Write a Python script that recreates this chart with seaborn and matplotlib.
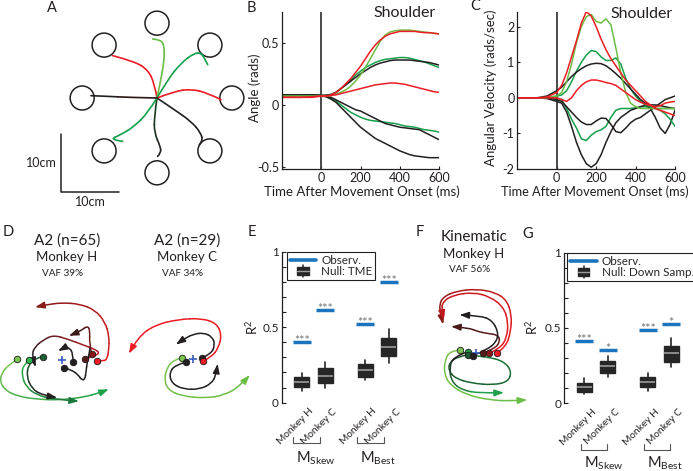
import numpy as np
import pandas as pd
import matplotlib
matplotlib.use('Agg')
import matplotlib.pyplot as plt
import seaborn as sns
from matplotlib.path import Path
from matplotlib.patches import PathPatch, Circle, Rectangle
from matplotlib.lines import Line2D
from matplotlib.legend_handler import HandlerBase
from matplotlib.ticker import MultipleLocator
import matplotlib.transforms as mtrans
import matplotlib.colors as mcolors

# ---------------- data ----------------
TIME_MS = [-200, -150, -100, -50, 0, 25, 50, 75, 100, 125, 150, 175, 200, 225, 250,
           275, 300, 325, 350, 375, 400, 425, 450, 475, 500, 525, 550, 575, 600]

# Panel B: shoulder angle (rads)
ang_red_hi = [0.06, 0.06, 0.06, 0.065, 0.07, 0.07, 0.08, 0.10, 0.13, 0.17, 0.21, 0.26, 0.31, 0.37, 0.43,
              0.48, 0.52, 0.55, 0.57, 0.58, 0.59, 0.59, 0.59, 0.59, 0.585, 0.58, 0.58, 0.575, 0.57]
ang_lgreen_hi = [0.07, 0.07, 0.07, 0.07, 0.07, 0.07, 0.075, 0.085, 0.10, 0.12, 0.15, 0.19, 0.24, 0.30, 0.37,
                 0.44, 0.51, 0.56, 0.585, 0.595, 0.60, 0.60, 0.60, 0.595, 0.59, 0.585, 0.58, 0.575, 0.57]
ang_green_mid = [0.075, 0.075, 0.075, 0.075, 0.075, 0.078, 0.085, 0.10, 0.13, 0.16, 0.20, 0.24, 0.27, 0.30, 0.32,
                 0.34, 0.355, 0.365, 0.37, 0.375, 0.38, 0.38, 0.375, 0.365, 0.355, 0.345, 0.33, 0.315, 0.30]
ang_black_mid = [0.08, 0.08, 0.08, 0.08, 0.075, 0.077, 0.08, 0.10, 0.13, 0.16, 0.19, 0.22, 0.25, 0.275, 0.30,
                 0.32, 0.335, 0.345, 0.355, 0.36, 0.36, 0.36, 0.36, 0.355, 0.35, 0.345, 0.34, 0.33, 0.32]
ang_red_lo = [0.06, 0.06, 0.06, 0.06, 0.07, 0.072, 0.075, 0.08, 0.09, 0.10, 0.11, 0.12, 0.13, 0.14, 0.15,
              0.16, 0.165, 0.17, 0.175, 0.175, 0.17, 0.165, 0.155, 0.145, 0.135, 0.125, 0.115, 0.105, 0.10]
ang_black_lo1 = [0.08, 0.08, 0.08, 0.08, 0.075, 0.07, 0.06, 0.04, 0.02, 0.0, -0.02, -0.04, -0.05, -0.07, -0.09,
                 -0.11, -0.13, -0.15, -0.16, -0.17, -0.18, -0.185, -0.19, -0.195, -0.20, -0.22, -0.24, -0.26, -0.28]
ang_green_lo = [0.075, 0.075, 0.075, 0.075, 0.07, 0.065, 0.05, 0.03, 0.0, -0.03, -0.06, -0.08, -0.10, -0.115, -0.125,
                -0.13, -0.135, -0.14, -0.145, -0.15, -0.16, -0.17, -0.175, -0.18, -0.19, -0.20, -0.205, -0.21, -0.22]
ang_black_lo2 = [0.08, 0.08, 0.08, 0.08, 0.075, 0.065, 0.045, 0.02, -0.02, -0.06, -0.10, -0.14, -0.18, -0.21, -0.24,
                 -0.27, -0.29, -0.31, -0.33, -0.35, -0.37, -0.385, -0.40, -0.41, -0.415, -0.42, -0.425, -0.425, -0.425]

# Panel C: shoulder angular velocity (rads/sec)
vel_red_big = [0, 0, 0, 0.02, 0.15, 0.35, 0.7, 1.15, 1.6, 2.1, 2.42, 2.3, 2.0, 1.65, 1.35,
               1.1, 0.9, 0.7, 0.5, 0.35, 0.2, 0.05, -0.1, -0.2, -0.3, -0.35, -0.4, -0.45, -0.5]
vel_lgreen_big = [0, 0, 0, 0.01, 0.05, 0.15, 0.45, 0.95, 1.55, 2.0, 2.28, 2.34, 2.15, 2.1, 2.22,
                  2.05, 1.4, 0.7, 0.15, -0.15, -0.25, -0.3, -0.3, -0.3, -0.3, -0.3, -0.3, -0.3, -0.3]
vel_green_med = [0, 0, 0, 0, 0.05, 0.08, 0.2, 0.45, 0.75, 1.0, 1.2, 1.33, 1.3, 1.15, 1.05,
                 1.05, 1.12, 0.95, 0.55, 0.25, 0.05, -0.1, -0.2, -0.25, -0.3, -0.35, -0.45, -0.6, -0.8]
vel_green_neg = [0, 0, 0, 0, 0.0, -0.05, -0.3, -0.6, -0.85, -1.15, -1.2, -1.05, -0.95, -0.9, -0.8,
                 -0.55, -0.35, -0.3, -0.3, -0.3, -0.28, -0.25, -0.25, -0.25, -0.3, -0.3, -0.3, -0.3, -0.3]
vel_black_pos = [0, 0, 0, 0.05, 0.2, 0.3, 0.45, 0.6, 0.72, 0.82, 0.9, 0.95, 0.97, 0.96, 0.9,
                 0.8, 0.68, 0.55, 0.4, 0.25, 0.1, -0.05, -0.15, -0.2, -0.2, -0.22, -0.25, -0.28, -0.3]
vel_red_mid = [0, 0, 0, 0, 0.0, -0.05, -0.1, 0.0, 0.2, 0.35, 0.45, 0.5, 0.5, 0.47, 0.43,
               0.4, 0.35, 0.25, 0.15, 0.05, -0.05, -0.12, -0.18, -0.22, -0.25, -0.22, -0.15, -0.12, -0.1]
vel_black_neg = [0, 0, 0, 0, -0.05, -0.1, -0.25, -0.4, -0.55, -0.68, -0.75, -0.75, -0.65, -0.57, -0.58,
                 -0.75, -0.95, -0.98, -0.85, -0.7, -0.6, -0.55, -0.45, -0.35, -0.25, -0.15, -0.05, 0.0, 0.05]
vel_black_big = [0, 0, 0, -0.02, -0.1, -0.15, -0.4, -0.8, -1.25, -1.6, -1.85, -1.95, -1.85, -1.6, -1.25,
                 -0.95, -0.7, -0.55, -0.45, -0.35, -0.3, -0.25, -0.2, -0.3, -0.55, -0.85, -1.0, -0.75, -0.35]

# Panel A: targets and hand paths (cm, relative to centre)
TARGET_ANGLES_DEG = [0, 45, 90, 135, 180, 225, 270, 315]
TARGET_DIST_CM = 12.9
TARGET_RADIUS_CM = 2.07
SCALE_BAR_CM = 10
hand_paths = {
    'ul_red':    [(0, 0), (-0.46, 2.59), (-1.61, 4.89), (-3.91, 6.32), (-7.64, 7.3)],
    'top_lg':    [(0, 0), (0.57, 2.59), (1.26, 6.61), (1.26, 8.91), (0.69, 10.06), (-0.75, 10.17)],
    'ur_green':  [(0, 0), (1.84, 3.16), (4.14, 6.03), (6.44, 7.76), (7.59, 7.76), (8.16, 6.9), (8.74, 5.75)],
    'r_red':     [(0, 0), (2.99, 1.15), (5.86, 1.55), (8.74, 0.86), (11.03, -0.29)],
    'lr_black':  [(0, 0), (2.99, -2.01), (5.86, -4.02), (7.59, -6.03), (7.87, -7.47), (7.3, -8.05)],
    'b_black':   [(0, 0), (-0.46, -3.16), (-0.46, -6.03), (0.57, -8.33), (0.69, -9.48), (0.11, -10.06)],
    'll_green':  [(0, 0), (-1.61, -2.59), (-3.91, -4.89), (-6.21, -6.32), (-8.22, -7.18), (-5.92, -7.47)],
    'l_black':   [(0, 0), (-5.06, 0.11), (-8.51, 0.29), (-11.38, 0.4)],
}

# Panels D and F: neural / kinematic trajectories (figure pixel units)
traj_D_H = [
    # points, start colour, end colour, arrow
    ([(96.7, 360.7), (104, 361.3), (107.3, 358.3), (108.7, 350), (109.3, 336.7), (105, 321.7), (95, 310),
      (80, 304), (61.7, 302.7), (46.7, 304.7), (37.3, 306.7)], '#ed1c24', '#8a1a1a', True),
    ([(85, 359.3), (91.7, 356.7), (100, 353.3), (95, 349.3), (83.3, 345), (68.3, 339.3), (53.3, 335),
      (43.3, 340), (35, 346.7), (31.7, 355), (35, 365)], '#ed1c24', '#231f20', True),
    ([(91.7, 354), (89.3, 343.3), (90, 330), (87.3, 326), (81.7, 330), (76.7, 332.7), (71, 335)],
     '#7a1c1c', '#3a1a1a', True),
    ([(73.3, 362.3), (72.7, 353.3), (70, 348.3), (65, 347.3), (60, 350)], '#231f20', '#231f20', True),
    ([(64.3, 367.7), (71.7, 370), (78.3, 375), (81.7, 380), (85, 379.3), (86, 371.7), (87.3, 361.7),
      (89.3, 353.3), (90, 348.3)], '#231f20', '#231f20', False),
    ([(17.3, 359.3), (8.3, 365), (1.7, 373.3), (0, 381.7), (5, 390), (16.7, 396), (36.7, 399.3), (60, 400),
      (83.3, 397.3), (100, 392.7), (106.7, 390)], '#7cc552', '#1fa04a', True),
    ([(29.3, 360), (23.3, 365), (21.7, 375), (26, 386.7), (36.7, 395), (53.3, 399.3), (76.7, 401)],
     '#2db34a', '#1a7a3a', True),
    ([(42.7, 356.7), (35, 358.3), (28.3, 365), (26.7, 376.7), (31.7, 388.3), (41.7, 395), (55, 397.3)],
     '#1d5e32', '#231f20', True),
]
dots_D_H = [((17.3, 359.3), '#7cc552'), ((29.3, 360), '#2db34a'), ((42.7, 356.7), '#1d5e32'),
            ((64.3, 367.7), '#231f20'), ((73.3, 362.3), '#231f20'), ((85, 359.3), '#5a1a1a'),
            ((91.7, 354), '#8a1a1a'), ((96.7, 360.7), '#ed1c24')]
centre_D_H = (62, 360)

traj_D_C = [
    ([(203.3, 361), (211.7, 356.7), (218.3, 348.3), (221.7, 335), (216.7, 323.3), (201.7, 318.3), (178.3, 319.3),
      (155, 325), (138.3, 336.7), (130, 351.7)], '#ed1c24', '#ed1c24', True),
    ([(202.3, 357.7), (211, 354), (215, 345), (212.3, 336.7), (203.3, 332.7), (193.3, 334.3), (185, 338.3),
      (177.7, 343.3)], '#231f20', '#231f20', True),
    ([(185.7, 362.3), (175, 365), (169.3, 373.3), (171.7, 383.3), (183.3, 389.3), (200, 389.3), (211.7, 383.3),
      (216, 375), (217.3, 366)], '#231f20', '#231f20', True),
    ([(181.7, 357.7), (173.3, 360), (166.7, 368.3), (164.3, 380), (168.3, 390), (181.7, 396), (205, 398.3),
      (225, 395), (240, 386), (248.3, 376.7)], '#7cc552', '#6abd45', True),
]
dots_D_C = [((181.7, 357.7), '#7cc552'), ((185.7, 362.3), '#231f20'), ((202.3, 357.7), '#231f20'),
            ((203.3, 361), '#ed1c24')]
centre_D_C = (193.3, 359.3)

traj_F = [
    ([(497.3, 352.7), (506, 346.7), (510.7, 331.7), (511.7, 315), (506.7, 300), (495, 292.3), (476.7, 289),
      (456.7, 291), (443.3, 296.7), (439.3, 305), (440.7, 313.3), (442.7, 322.3)], '#ed1c24', '#8a1a1a', True),
    ([(489.3, 353.3), (500, 348.3), (506.7, 338.3), (508.3, 321.7), (503.3, 306.7), (490, 296.7), (473.3, 292.3),
      (453.3, 295), (442.7, 301.7), (441.7, 310), (443.3, 317.7)], '#ed1c24', '#c0181e', True),
    ([(483.3, 353.3), (495, 348.3), (500, 341.7), (498.3, 335), (486.7, 333.3), (478.3, 331.7), (468.3, 327.7),
      (453.3, 326.7)], '#6b1d1d', '#4a1a1a', True),
    ([(472.7, 355.7), (486.7, 350), (496.7, 341.7), (498.3, 331.7), (491.7, 320), (480, 315.7), (461.7, 315)],
     '#231f20', '#231f20', True),
    ([(468.3, 355), (486.7, 356.7), (503.3, 361), (511.7, 371), (508.3, 381.7), (493.3, 385), (471.7, 383.3),
      (455, 378.3), (448.3, 370), (450, 361.7), (458.3, 356.7), (466.7, 355)], '#1d7a3a', '#1d4e2a', False),
    ([(467.7, 351.7), (453.3, 356.7), (449.3, 368.3), (451.7, 381.7), (461.7, 390), (480, 393.3), (501.7, 392.7)],
     '#231f20', '#1fa04a', True),
    ([(460, 350), (450, 351), (445, 360), (444, 373.3), (450, 385), (466.7, 395), (490, 400), (510, 401),
      (525, 400)], '#7cc552', '#6abd45', True),
]
dots_F = [((460, 350), '#7cc552'), ((467.7, 351.7), '#1fa04a'), ((468.3, 355), '#1d5e32'),
          ((472.7, 355.7), '#231f20'), ((483.3, 353.3), '#5a1a1a'), ((489.3, 353.3), '#8a1a1a'),
          ((497.3, 352.7), '#ed1c24')]
centre_F = (476, 353)

# Panels E and G: box statistics and observed R^2
group_labels = ['Monkey H', 'Monkey C', 'Monkey H', 'Monkey C']
E_whislo = [0.08, 0.10, 0.15, 0.26]
E_q1 = [0.106, 0.128, 0.172, 0.309]
E_med = [0.139, 0.177, 0.216, 0.37]
E_q3 = [0.168, 0.227, 0.254, 0.43]
E_whishi = [0.199, 0.27, 0.283, 0.486]
E_obs = [0.404, 0.614, 0.521, 0.801]
E_stars = ['***', '***', '***', '***']

G_whislo = [0.06, 0.177, 0.084, 0.243]
G_q1 = [0.077, 0.204, 0.106, 0.277]
G_med = [0.111, 0.248, 0.144, 0.332]
G_q3 = [0.137, 0.283, 0.173, 0.38]
G_whishi = [0.166, 0.314, 0.2, 0.431]
G_obs = [0.414, 0.354, 0.487, 0.527]
G_stars = ['***', '*', '***', '*']

# ---------------- style ----------------
sns.set_theme(style='white')
plt.rcParams['font.family'] = ['Lato', 'DejaVu Sans']
plt.rcParams['mathtext.fontset'] = 'custom'
plt.rcParams['mathtext.rm'] = 'Lato'
plt.rcParams['mathtext.it'] = 'Lato:italic'
plt.rcParams['mathtext.bf'] = 'Lato:bold'

RED = '#ed1c24'
LGREEN = '#6abd45'
GREEN = '#15a04a'
BLACK = '#231f20'
BLUE = '#1c75bc'
DARK = '#262626'

W, H = 693, 471
fig = plt.figure(figsize=(W / 100, H / 100), dpi=100)
fig.patch.set_facecolor('white')


def frac(l, t, r, b):
    return [l / W, 1 - b / H, (r - l) / W, (b - t) / H]


def ftext(x, y, s, **kw):
    fig.text(x / W, 1 - y / H, s, **kw)


def mix(c0, c1, f):
    a = np.array(mcolors.to_rgb(c0))
    b = np.array(mcolors.to_rgb(c1))
    return tuple(a + (b - a) * f)


def smooth_curve(ax, pts, c0, c1, lw=1.0, arrow=True, z=3):
    p = np.asarray(pts, float)
    n = len(p)
    nseg = n - 2
    for k in range(1, n - 1):
        start = p[0] if k == 1 else (p[k - 1] + p[k]) / 2
        end = (p[k] + p[k + 1]) / 2 if k < n - 2 else p[n - 1]
        col = mix(c0, c1, (k - 1) / max(nseg - 1, 1))
        path = Path([start, p[k], end], [Path.MOVETO, Path.CURVE3, Path.CURVE3])
        ax.add_patch(PathPatch(path, fill=False, ec=col, lw=lw, capstyle='round', zorder=z))
    if arrow:
        d = p[-1] - p[-2]
        d = d / np.hypot(*d)
        ax.annotate('', xy=tuple(p[-1] + d * 2), xytext=tuple(p[-1] - d * 3),
                    arrowprops=dict(arrowstyle='-|>,head_length=0.6,head_width=0.22', color=c1,
                                    lw=lw, shrinkA=0, shrinkB=0, mutation_scale=9), zorder=z + 1)


# ---------------- overlay axes for D and F ----------------
ov = fig.add_axes([0, 0, 1, 1])
ov.set_xlim(0, W)
ov.set_ylim(H, 0)
ov.axis('off')
ov.set_facecolor('none')

for traj, dots, centre in [(traj_D_H, dots_D_H, centre_D_H), (traj_D_C, dots_D_C, centre_D_C),
                           (traj_F, dots_F, centre_F)]:
    for pts, c0, c1, arr in traj:
        smooth_curve(ov, pts, c0, c1, lw=1.1, arrow=arr)
    ov.plot(*centre, marker='+', color='#3a5dc0', ms=6, mew=1.2, zorder=6)
    for (x, y), c in dots:
        ov.scatter([x], [y], s=22, color=c, edgecolor='#1a1a1a', linewidth=0.6, zorder=7)

# ---------------- Panel A ----------------
px_per_cm = 5.8
cx_px, cy_px = 157, 98
axA = fig.add_axes(frac(0, 0, 230, 215))
axA.set_xlim((0 - cx_px) / px_per_cm, (230 - cx_px) / px_per_cm)
axA.set_ylim((cy_px - 215) / px_per_cm, (cy_px - 0) / px_per_cm)
axA.axis('off')
axA.set_facecolor('none')
for ang in TARGET_ANGLES_DEG:
    a = np.deg2rad(ang)
    axA.add_patch(Circle((TARGET_DIST_CM * np.cos(a), TARGET_DIST_CM * np.sin(a)), TARGET_RADIUS_CM,
                         fill=False, ec=BLACK, lw=1.1, clip_on=False))
a_cols = {'ul_red': (RED, RED), 'top_lg': (LGREEN, LGREEN), 'ur_green': (GREEN, GREEN),
          'r_red': (RED, RED), 'lr_black': (BLACK, BLACK), 'b_black': ('#1a3a22', BLACK),
          'll_green': (GREEN, GREEN), 'l_black': ('#2a1414', BLACK)}
for key, pts in hand_paths.items():
    c0, c1 = a_cols[key]
    smooth_curve(axA, pts, c0, c1, lw=1.2, arrow=False)
sb_x, sb_y = -16.55, -16.2
axA.plot([sb_x, sb_x, sb_x + SCALE_BAR_CM], [sb_y + SCALE_BAR_CM, sb_y, sb_y], color=BLACK, lw=1.1,
         clip_on=False)
ftext(57, 163, '10cm', ha='right', va='center', fontsize=9, color=BLACK)
ftext(90.5, 201.5, '10cm', ha='center', va='center', fontsize=9, color=BLACK)

# ---------------- Panels B and C ----------------
b_series = [('r1', ang_red_hi, RED), ('g1', ang_lgreen_hi, LGREEN), ('g2', ang_green_mid, GREEN),
            ('k1', ang_black_mid, BLACK), ('r2', ang_red_lo, RED), ('k2', ang_black_lo1, BLACK),
            ('g3', ang_green_lo, GREEN), ('k3', ang_black_lo2, BLACK)]
c_series = [('r1', vel_red_big, RED), ('g1', vel_lgreen_big, LGREEN), ('g2', vel_green_med, GREEN),
            ('k1', vel_black_pos, BLACK), ('r2', vel_red_mid, RED), ('k2', vel_black_neg, BLACK),
            ('g3', vel_green_neg, GREEN), ('k3', vel_black_big, BLACK)]


def time_panel(rect, series, ylim, yticks, yticklabels):
    ax = fig.add_axes(rect)
    ax.set_facecolor('none')
    df = pd.concat([pd.DataFrame({'t': TIME_MS, 'v': vals, 'curve': name}) for name, vals, _ in series])
    pal = {name: c for name, _, c in series}
    order = ['g3', 'k3', 'k2', 'g2', 'k1', 'g1', 'r2', 'r1']
    sns.lineplot(data=df, x='t', y='v', hue='curve', hue_order=order, palette=pal, legend=False,
                 estimator=None, lw=1.1, ax=ax)
    ax.axvline(0, color='#3a3a3a', lw=1.3, zorder=1)
    ax.set_xlim(-200, 600)
    ax.set_ylim(*ylim)
    ax.set_xticks([0, 200, 400, 600])
    ax.set_xticklabels(['0', '200', '400', '600'])
    ax.set_yticks(yticks)
    ax.set_yticklabels(yticklabels)
    ax.tick_params(axis='both', labelsize=9, length=2.5, width=0.8, direction='in', pad=2,
                   colors=BLACK, left=True, bottom=True)
    for s in ['top', 'right']:
        ax.spines[s].set_visible(False)
    for s in ['left', 'bottom']:
        ax.spines[s].set_color(BLACK)
        ax.spines[s].set_linewidth(0.9)
    ax.set_xlabel('')
    ax.set_ylabel('')
    return ax


axB = time_panel(frac(282, 12, 439, 169), b_series, (-0.516, 0.746), [-0.5, 0, 0.5], ['-0.5', '0', '0.5'])
axC = time_panel(frac(517.3, 11.7, 675, 169), c_series, (-2.0, 2.42), [-2, -1, 0, 1, 2],
                 ['-2', '-1', '0', '1', '2'])
ftext(255, 88, 'Angle (rads)', rotation=90, ha='center', va='center', fontsize=9.5, color=BLACK)
ftext(491, 88, 'Angular Velocity (rads/sec)', rotation=90, ha='center', va='center', fontsize=9.5,
      color=BLACK)
ftext(362, 192, 'Time After Movement Onset (ms)', ha='center', va='center', fontsize=9.5, color=BLACK)
ftext(595, 192, 'Time After Movement Onset (ms)', ha='center', va='center', fontsize=9.2, color=BLACK)
ftext(405, 13, 'Shoulder', ha='center', va='center', fontsize=11.5, color=BLACK)
ftext(642, 14, 'Shoulder', ha='center', va='center', fontsize=11.5, color=BLACK)

# ---------------- Panels E and G ----------------
POSITIONS = [0, 1, 2.7, 3.7]


class BoxProxy:
    pass


class HandlerBox(HandlerBase):
    def create_artists(self, legend, orig_handle, xdescent, ydescent, width, height, fontsize, trans):
        cx = -xdescent + width * 0.5
        bw = width * 0.42
        y0 = -ydescent
        arts = [Line2D([cx, cx], [y0 - 0.25 * height, y0 + 1.25 * height], color=DARK, lw=1.1,
                       transform=trans),
                Rectangle((cx - bw / 2, y0 + 0.05 * height), bw, 0.9 * height, fc=DARK, ec=DARK,
                          transform=trans),
                Line2D([cx - bw / 2, cx + bw / 2], [y0 + 0.5 * height] * 2, color='#9b9b9b', lw=1,
                       transform=trans)]
        return arts


def r2_panel(rect, xlim, whislo, q1, med, q3, whishi, obs, stars, null_label, leg_xy,
             br_y, txt_y, br_off):
    ax = fig.add_axes(rect)
    ax.set_facecolor('none')
    stats = [dict(med=m, q1=a, q3=b, whislo=lo, whishi=hi, fliers=[])
             for lo, a, m, b, hi in zip(whislo, q1, med, q3, whishi)]
    ax.bxp(stats, positions=POSITIONS, widths=0.64, patch_artist=True, showcaps=False, showfliers=False,
           boxprops=dict(facecolor=DARK, edgecolor=DARK, lw=1),
           whiskerprops=dict(color=DARK, lw=1.2),
           medianprops=dict(color='#9b9b9b', lw=1.2))
    for p, o, s in zip(POSITIONS, obs, stars):
        ax.plot([p - 0.38, p + 0.38], [o, o], color=BLUE, lw=2.5, solid_capstyle='butt', zorder=4)
        ax.text(p, o - 0.022, s, ha='center', va='baseline', fontsize=9, color='#707070')
    ax.set_xlim(*xlim)
    ax.set_ylim(0, 1)
    ax.set_yticks([0, 0.5, 1])
    ax.set_yticklabels(['0', '0.5', '1'])
    ax.yaxis.set_minor_locator(MultipleLocator(0.1))
    ax.tick_params(axis='y', which='both', direction='in', length=3, width=0.8, labelsize=8.5, pad=2,
                   colors=BLACK, left=True)
    ax.set_xticks(POSITIONS)
    ax.set_xticklabels(group_labels, rotation=45, ha='right', va='top', rotation_mode='anchor',
                       fontsize=7.3)
    ax.tick_params(axis='x', length=0, pad=3, colors=BLACK)
    off = mtrans.ScaledTranslation(5 / 72, 0, fig.dpi_scale_trans)
    for lab in ax.get_xticklabels():
        lab.set_transform(lab.get_transform() + off)
    for s in ['top', 'right', 'bottom']:
        ax.spines[s].set_visible(False)
    ax.spines['left'].set_color(BLACK)
    ax.spines['left'].set_linewidth(0.9)
    tr = ax.get_xaxis_transform()
    for (i, j), name in zip([(0, 1), (2, 3)], ['Skew', 'Best']):
        x0 = POSITIONS[i] - br_off[0]
        x1 = POSITIONS[j] - br_off[1]
        ax.plot([x0, x0, x1, x1], [br_y + 0.04, br_y, br_y, br_y + 0.04], transform=tr, clip_on=False,
                color='#555555', lw=0.8)
        ax.text(x0 + 0.12, txt_y, r'M$_{\mathrm{%s}}$' % name, transform=tr, ha='left', va='center',
                fontsize=10.5, color=BLACK)
    handles = [Line2D([], [], color=BLUE, lw=2.6), BoxProxy()]
    ax.legend(handles, ['Observ.', null_label], handler_map={BoxProxy: HandlerBox()},
              loc='upper left', bbox_to_anchor=(leg_xy[0] / W, 1 - leg_xy[1] / H),
              bbox_transform=fig.transFigure, borderaxespad=0, fontsize=8.4, frameon=True,
              fancybox=False, framealpha=1, edgecolor=BLACK, borderpad=0.25, labelspacing=0.05,
              handlelength=2.3, handletextpad=0.4)
    ax.get_legend().get_frame().set_linewidth(0.8)
    return ax


axE = r2_panel(frac(281.7, 251.7, 400, 402.7), (-0.85, 4.18), E_whislo, E_q1, E_med, E_q3, E_whishi,
               E_obs, E_stars, 'Null: TME', (286.7, 251.7), -0.267, -0.366, (0.35, 0.22))
axG = r2_panel(frac(564, 252.7, 690, 403.3), (-0.864, 4.5), G_whislo, G_q1, G_med, G_q3, G_whishi,
               G_obs, G_stars, 'Null: Down Samp.', (567.3, 252.7), -0.307, -0.40, (0.15, 0.05))
ftext(252, 327, r'R$^{2}$', rotation=90, ha='center', va='center', fontsize=9.5, color=BLACK)
ftext(532, 327, r'R$^{2}$', rotation=90, ha='center', va='center', fontsize=9.5, color=BLACK)

# ---------------- titles for D and F ----------------
ftext(67, 241, 'A2 (n=65)', ha='center', va='center', fontsize=11, color=BLACK)
ftext(67, 257, 'Monkey H', ha='center', va='center', fontsize=9.5, color=BLACK)
ftext(63, 273, 'VAF 39%', ha='center', va='center', fontsize=7.2, color=BLACK)
ftext(187, 241, 'A2 (n=29)', ha='center', va='center', fontsize=11, color=BLACK)
ftext(187, 257, 'Monkey C', ha='center', va='center', fontsize=9.5, color=BLACK)
ftext(183, 273, 'VAF 34%', ha='center', va='center', fontsize=7.2, color=BLACK)
ftext(474, 237, 'Kinematic', ha='center', va='center', fontsize=11, color=BLACK)
ftext(474, 254, 'Monkey H', ha='center', va='center', fontsize=9.5, color=BLACK)
ftext(470, 270, 'VAF 56%', ha='center', va='center', fontsize=7.2, color=BLACK)

# ---------------- panel letters ----------------
for letter, (x, y) in {'A': (52, 8), 'B': (251.5, 8.5), 'C': (475, 6), 'D': (8.5, 232),
                       'E': (251.5, 232), 'F': (420, 232), 'G': (528, 234)}.items():
    ftext(x, y, letter, ha='center', va='center', fontsize=10.5, color=BLACK)

fig.savefig('out.png', dpi=100, facecolor='white')
